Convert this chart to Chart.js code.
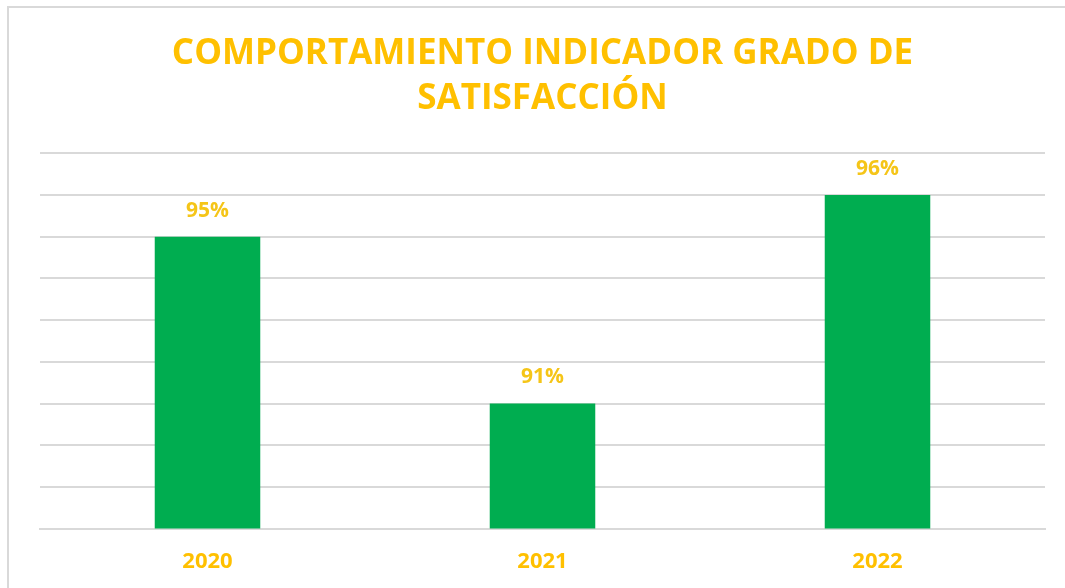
<!DOCTYPE html>
<html>
<head>
<meta charset="utf-8">
<script src="https://cdn.jsdelivr.net/npm/chart.js@4.4.0/dist/chart.umd.min.js"></script>
<style>
  html, body { margin: 0; padding: 0; background: #fff; }
  #wrap { position: relative; width: 1065px; height: 588px; overflow: hidden; }
  #frame { position: absolute; left: 7px; top: 6px; width: 1100px; height: 620px; border: 2px solid #d9d9d9; box-sizing: border-box; }
  canvas { position: absolute; left: 0; top: 0; }
</style>
</head>
<body>
<div id="wrap">
  <div id="frame"></div>
  <canvas id="c" width="1065" height="588"></canvas>
</div>
<script>
const titleLines = ["COMPORTAMIENTO INDICADOR GRADO DE", "SATISFACCIÓN"];
const categories = ["2020", "2021", "2022"];
const values = [95, 91, 96];
const labels = ["95%", "91%", "96%"];
const yMin = 88;
const yMax = 97;

const yellow = "#FFC000";
const green = "#00AD50";
const grid = "#d9d9d9";

const valueLabels = {
  id: "valueLabels",
  afterDatasetsDraw(chart) {
    const ctx = chart.ctx;
    const meta = chart.getDatasetMeta(0);
    ctx.save();
    ctx.font = "bold 21px 'Open Sans', sans-serif";
    ctx.fillStyle = "#F5C518";
    ctx.textAlign = "center";
    ctx.textBaseline = "middle";
    meta.data.forEach((bar, i) => {
      ctx.fillText(labels[i], bar.x, bar.y - 26);
    });
    ctx.restore();
  }
};

new Chart(document.getElementById("c"), {
  type: "bar",
  data: {
    labels: categories,
    datasets: [{
      data: values,
      backgroundColor: green,
      borderWidth: 0,
      categoryPercentage: 1,
      barPercentage: 0.315
    }]
  },
  options: {
    responsive: false,
    animation: false,
    layout: { padding: { left: 40, right: 20, top: 12, bottom: 1 } },
    plugins: {
      legend: { display: false },
      tooltip: { enabled: false },
      title: {
        display: true,
        text: titleLines,
        color: yellow,
        font: { family: "'Open Sans', sans-serif", size: 35, weight: "bold", lineHeight: 1.29 },
        padding: { top: 19, bottom: 32 }
      }
    },
    scales: {
      x: {
        grid: { display: false },
        border: { display: true, color: grid, width: 2 },
        ticks: {
          color: yellow,
          font: { family: "'Open Sans', sans-serif", size: 22, weight: "bold" },
          padding: 12
        }
      },
      y: {
        min: yMin,
        max: yMax,
        ticks: { display: false, stepSize: 1 },
        grid: { color: grid, lineWidth: 2, drawTicks: false },
        border: { display: false }
      }
    }
  },
  plugins: [valueLabels]
});
</script>
</body>
</html>
